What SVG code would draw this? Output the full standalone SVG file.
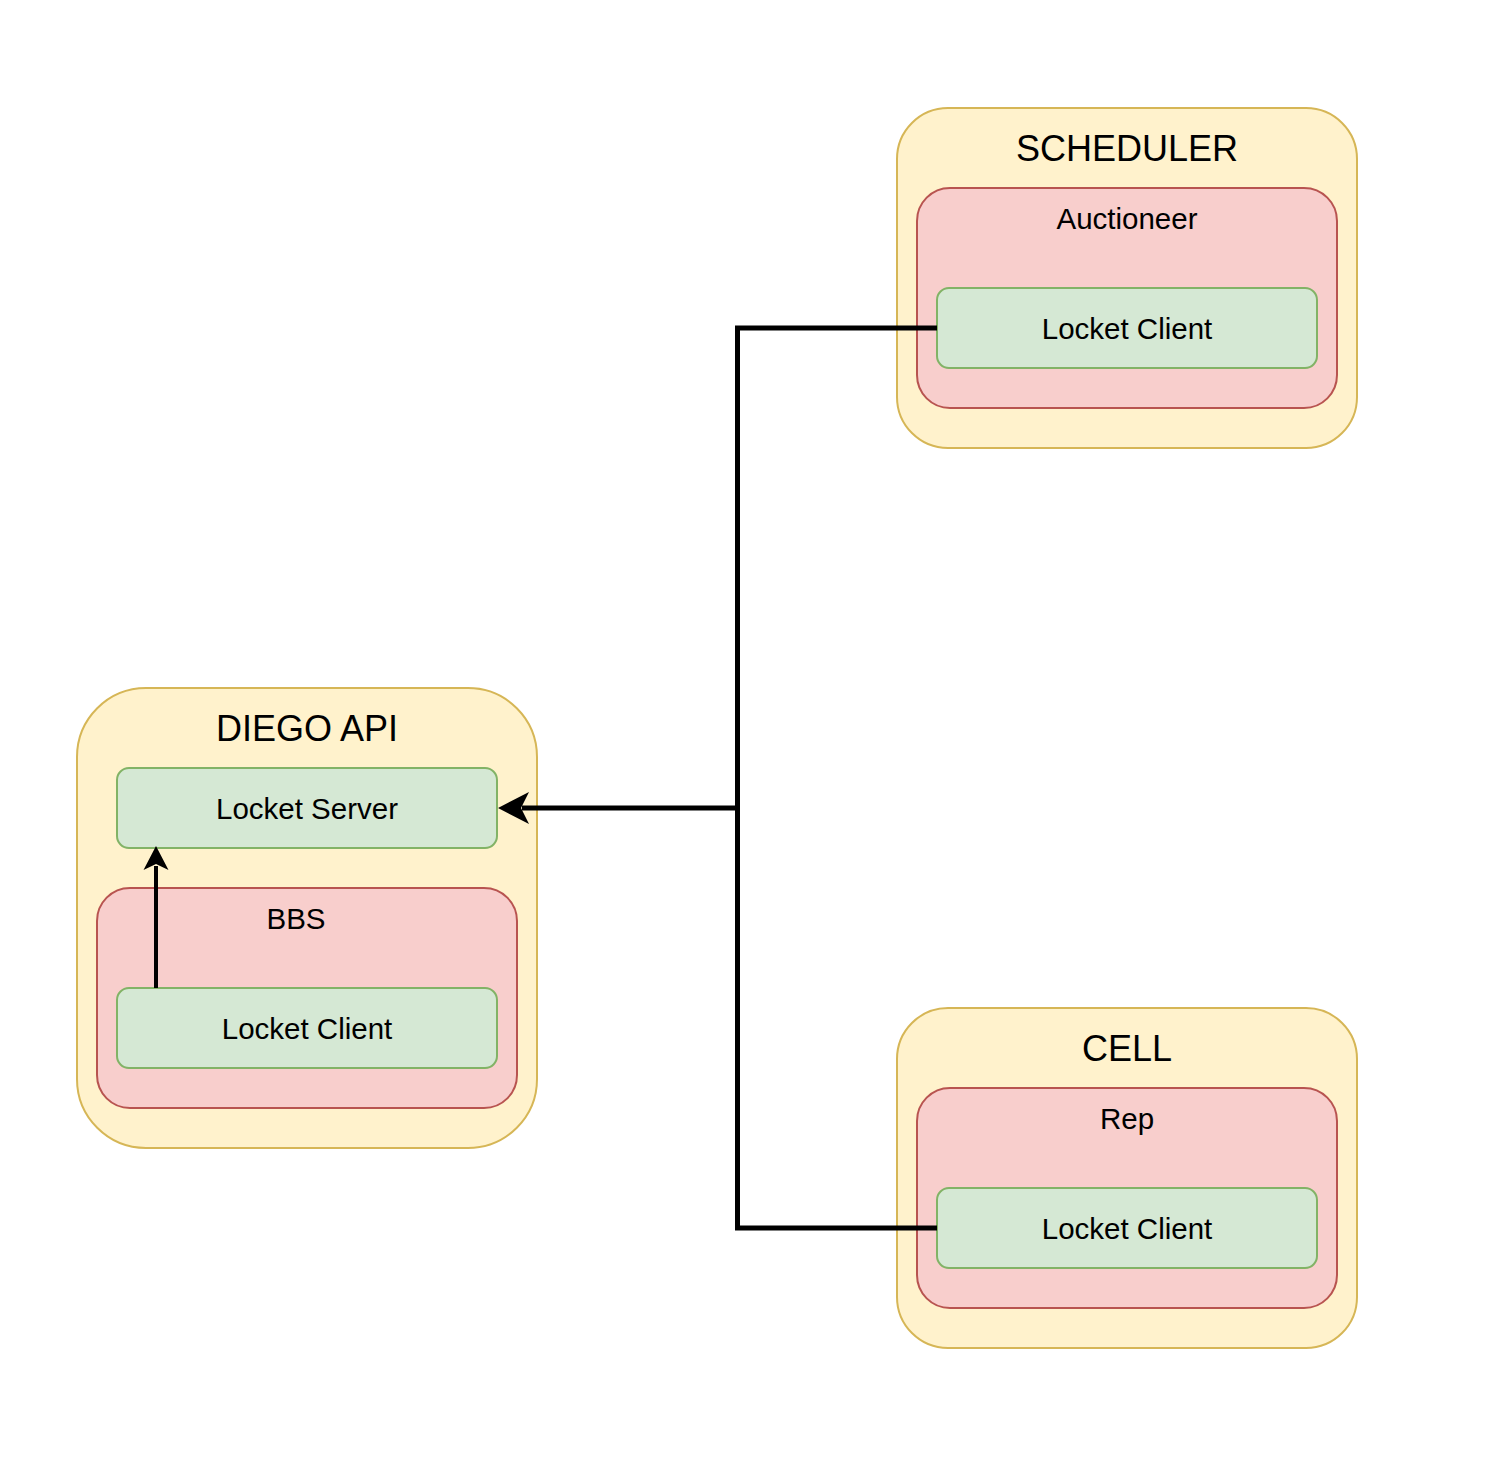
<svg xmlns="http://www.w3.org/2000/svg" width="1492" height="1458" viewBox="0 0 1492 1458">
<style>
.outer{fill:#fff2cc;stroke:#d6b656;stroke-width:2}
.mid{fill:#f8cecc;stroke:#b85450;stroke-width:2}
.inner{fill:#d5e8d4;stroke:#82b366;stroke-width:2}
text{font-family:"Liberation Sans",Arial,Helvetica,sans-serif;fill:#000;text-anchor:middle;dominant-baseline:central}
.t1{font-size:36px}
.t2{font-size:29.5px}
.edge{fill:none;stroke:#000;stroke-linejoin:miter}
</style>
<rect width="1492" height="1458" fill="#fff"/>
<g id="scheduler">
<rect class="outer" x="897" y="108" width="460" height="340" rx="51"/>
<text class="t1" x="1127" y="148">SCHEDULER</text>
</g>
<g id="auctioneer">
<rect class="mid" x="917" y="188" width="420" height="220" rx="33"/>
<text class="t2" x="1127" y="218">Auctioneer</text>
</g>
<g id="auctioneer-locket-client">
<rect class="inner" x="937" y="288" width="380" height="80" rx="12"/>
<text class="t2" x="1127" y="328">Locket Client</text>
</g>
<g id="diego-api">
<rect class="outer" x="77" y="688" width="460" height="460" rx="69"/>
<text class="t1" x="307" y="728">DIEGO API</text>
</g>
<g id="locket-server">
<rect class="inner" x="117" y="768" width="380" height="80" rx="12"/>
<text class="t2" x="307" y="808">Locket Server</text>
</g>
<g id="bbs">
<rect class="mid" x="97" y="888" width="420" height="220" rx="33"/>
<text class="t2" x="296" y="918">BBS</text>
</g>
<g id="bbs-locket-client">
<rect class="inner" x="117" y="988" width="380" height="80" rx="12"/>
<text class="t2" x="307" y="1028">Locket Client</text>
</g>
<g id="cell">
<rect class="outer" x="897" y="1008" width="460" height="340" rx="51"/>
<text class="t1" x="1127" y="1048">CELL</text>
</g>
<g id="rep">
<rect class="mid" x="917" y="1088" width="420" height="220" rx="33"/>
<text class="t2" x="1127" y="1118">Rep</text>
</g>
<g id="rep-locket-client">
<rect class="inner" x="937" y="1188" width="380" height="80" rx="12"/>
<text class="t2" x="1127" y="1228">Locket Client</text>
</g>
<g id="connectors">
<path class="edge" stroke-width="5" d="M937 328 H737.5 V808 H522"/>
<path class="edge" stroke-width="5" d="M937 1228 H737.5 V808"/>
<path d="M498 808 L529 792 L521 808 L529 824 Z" fill="#000"/>
<path class="edge" stroke-width="4" d="M156 988 V866"/>
<path d="M156 846 L168.5 870 L156 864 L143.5 870 Z" fill="#000"/>
</g>
</svg>
